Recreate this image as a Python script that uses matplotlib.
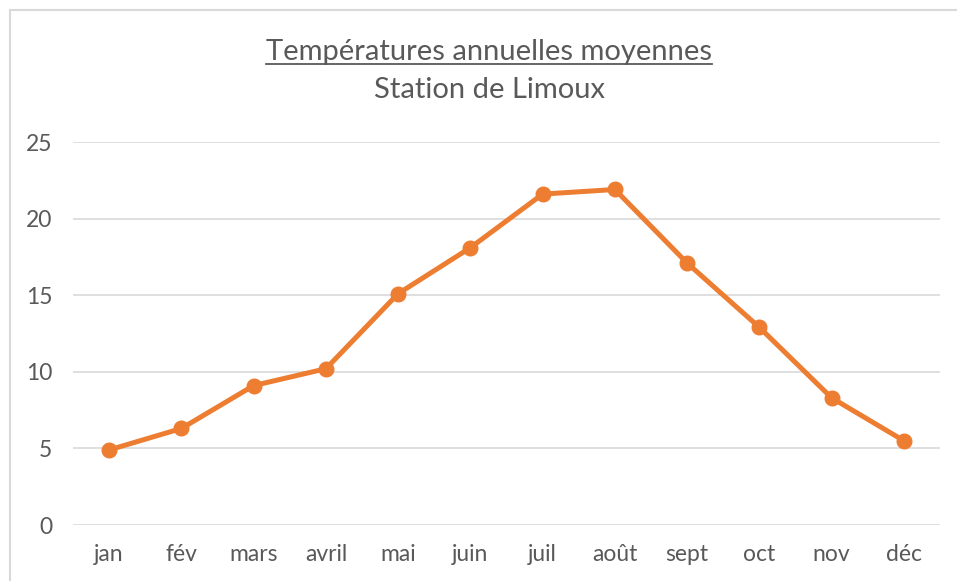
import matplotlib
matplotlib.use("Agg")
from matplotlib import pyplot as plt
from matplotlib.lines import Line2D
from matplotlib.patches import Rectangle

months = ['jan', 'fév', 'mars', 'avril', 'mai', 'juin',
          'juil', 'août', 'sept', 'oct', 'nov', 'déc']
temps = [4.9, 6.3, 9.1, 10.2, 15.1, 18.1, 21.6, 21.9, 17.1, 12.9, 8.3, 5.5]
yticks = [0, 5, 10, 15, 20, 25]

TXT = '#595959'
plt.rcParams['font.family'] = ['Lato', 'DejaVu Sans']

W, H = 957, 581
fig = plt.figure(figsize=(W / 100, H / 100), dpi=100)
ax = fig.add_axes([73 / W, 56 / H, (940 - 73) / W, (525 - 142) / H])

# chart border (top/left visible only)
fig.patches.append(Rectangle((10 / W, -0.05), 1.2, (H - 10) / H + 0.05,
                             transform=fig.transFigure, fill=False,
                             edgecolor='#D9D9D9', linewidth=1.5))

x = list(range(len(months)))
ax.plot(x, temps, color='#ED7D31', linewidth=3.6, marker='o', markersize=10.5,
        solid_capstyle='round', zorder=3)

ax.set_xlim(-0.5, len(months) - 0.5)
ax.set_ylim(0, 25)
ax.set_yticks(yticks)
ax.set_xticks(x)
ax.set_xticklabels(months)
ax.grid(axis='y', color='#D9D9D9', linewidth=1.2)
ax.set_axisbelow(True)
for s in ax.spines.values():
    s.set_visible(False)
ax.tick_params(length=0, colors=TXT, labelsize=16.5)
ax.tick_params(axis='x', pad=14)
ax.tick_params(axis='y', pad=15)

t1 = fig.text(489 / W, 1 - 52 / H, 'Températures annuelles moyennes',
              ha='center', va='center', fontsize=21, color=TXT)
fig.text(489 / W, 1 - 90 / H, 'Station de Limoux',
         ha='center', va='center', fontsize=21, color=TXT)

# underline the title
fig.canvas.draw()
bb = t1.get_window_extent(renderer=fig.canvas.get_renderer())
uy = (bb.y0 + 1) / H
fig.add_artist(Line2D([bb.x0 / W, bb.x1 / W], [uy, uy], color=TXT,
                      linewidth=1.3, transform=fig.transFigure))

fig.savefig('out.png', dpi=100)
